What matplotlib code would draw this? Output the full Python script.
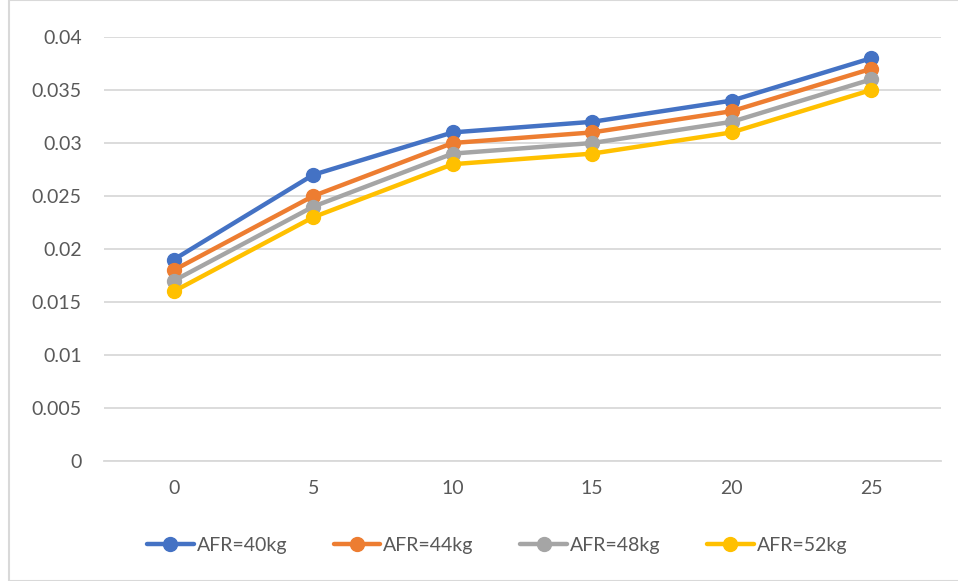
import matplotlib
matplotlib.use("Agg")
import matplotlib.pyplot as plt
from matplotlib.patches import Rectangle

categories = ["0", "5", "10", "15", "20", "25"]
series_names = ["AFR=40kg", "AFR=44kg", "AFR=48kg", "AFR=52kg"]
afr40 = [0.019, 0.027, 0.031, 0.032, 0.034, 0.038]
afr44 = [0.018, 0.025, 0.030, 0.031, 0.033, 0.037]
afr48 = [0.017, 0.024, 0.029, 0.030, 0.032, 0.036]
afr52 = [0.016, 0.023, 0.028, 0.029, 0.031, 0.035]
yticks = [0, 0.005, 0.01, 0.015, 0.02, 0.025, 0.03, 0.035, 0.04]
ytick_labels = ["0", "0.005", "0.01", "0.015", "0.02", "0.025", "0.03", "0.035", "0.04"]
colors = ["#4472C4", "#ED7D31", "#A5A5A5", "#FFC000"]

plt.rcParams['font.family'] = ['Lato', 'DejaVu Sans']

fig = plt.figure(figsize=(9.58, 5.81), dpi=100)
ax = fig.add_axes([104/958, 1-461/581, (941-104)/958, (461-37)/581])

x = list(range(len(categories)))
for vals, name, c in zip([afr40, afr44, afr48, afr52], series_names, colors):
    ax.plot(x, vals, color=c, lw=3.2, marker='o', markersize=10, label=name,
            solid_capstyle='round', zorder=3)

ax.set_xlim(-0.5, len(categories) - 0.5)
ax.set_ylim(0, 0.04)
ax.set_yticks(yticks)
ax.set_yticklabels(ytick_labels)
ax.set_xticks(x)
ax.set_xticklabels(categories)
ax.grid(axis='y', color='#D9D9D9', lw=1.3)
ax.set_axisbelow(True)
for s in ['top', 'right', 'left']:
    ax.spines[s].set_visible(False)
ax.spines['bottom'].set_color('#D9D9D9')
ax.spines['bottom'].set_linewidth(1.3)
ax.tick_params(axis='both', length=0, labelsize=14, colors='#595959')
ax.tick_params(axis='y', pad=16)
ax.tick_params(axis='x', pad=14)

leg = fig.legend(loc='center', bbox_to_anchor=(497/958, 1-545/581), ncol=4, frameon=False,
                 fontsize=14, handlelength=2.4, columnspacing=2.4, handletextpad=0.15,
                 labelcolor='#595959')

fig.patches.append(Rectangle((9/958, 0), 1, 1, transform=fig.transFigure,
                             fill=False, edgecolor='#D9D9D9', lw=1.5))

fig.savefig("out.png", dpi=100)
